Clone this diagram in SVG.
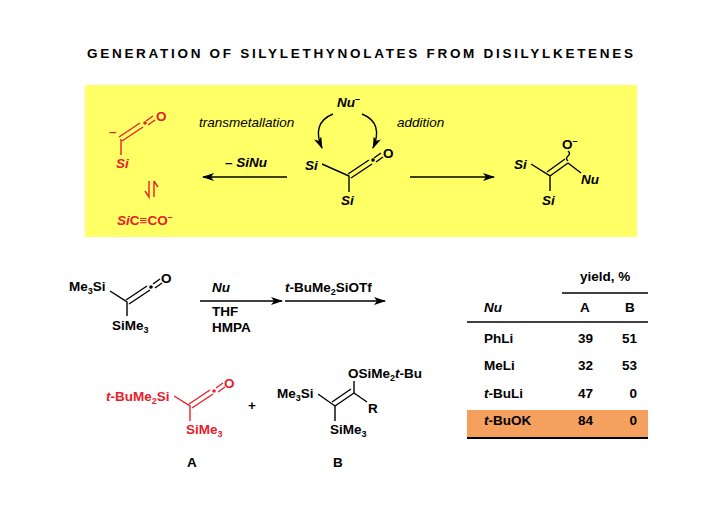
<svg xmlns="http://www.w3.org/2000/svg" width="720" height="509" viewBox="0 0 720 509">
<defs>
<style>
text{font-family:"Liberation Sans",Arial,sans-serif;font-weight:bold;font-size:13.5px;fill:#000}
.i{font-style:italic}
.n{font-weight:normal;font-style:italic}
.r{fill:#e8202a}
.b{stroke:#000;stroke-width:1.4;fill:none}
.rb{stroke:#e8202a;stroke-width:1.4;fill:none}
</style>
<marker id="ah" markerWidth="12" markerHeight="8" refX="11" refY="4" orient="auto" markerUnits="userSpaceOnUse"><path d="M0,0 L12,4 L0,8 L3,4 Z" fill="#000"/></marker>
</defs>
<rect width="720" height="509" fill="#fff"/>
<text x="87" y="58" font-size="15.5" textLength="546" lengthAdjust="spacing">GENERATION  OF  SILYLETHYNOLATES  FROM  DISILYLKETENES</text>
<rect x="85" y="85" width="552" height="152" fill="#ffff66"/>
<g id="top-nu"><text x="337" y="107" class="i">Nu<tspan dy="-5" font-size="9">–</tspan></text></g>
<g id="labels"><text x="199" y="127" class="n" font-size="14">transmetallation</text><text x="397" y="127" class="n" font-size="14">addition</text>
<text x="225" y="167" class="i" font-size="14">– SiNu</text></g>
<g id="ketene">
<text x="305" y="170" class="i" font-size="14">Si</text>
<path class="b" d="M322,164 L349,176 L349,192"/>
<path class="b" d="M348,174 L369,160 M351,178 L372,164 M374,158 L381,153 M376,162 L383,157"/>
<circle cx="373" cy="160" r="1.8"/>
<text x="383" y="158" font-size="14">O</text>
<text x="341" y="205" class="i" font-size="14">Si</text>
</g>
<g id="red-left">
<text x="156" y="121" class="r" font-size="14">O</text>
<text x="109" y="136" class="r">–</text>
<path class="rb" d="M119,137 L140,123 M122,141 L143,127 M146,121 L153,116 M148,125 L155,120"/>
<circle cx="145" cy="123" r="1.8" fill="#e8202a"/>
<path class="rb" d="M121,139 L121,155"/>
<text x="116" y="168" class="r i" font-size="14">Si</text>
<path class="rb" d="M149,181 L149,197 L145,191 M154,181 L154,197 M154,181 L158,187"/>
<text x="117" y="225" class="r" font-size="14"><tspan class="i">Si</tspan>C≡CO<tspan dy="-5" font-size="9">–</tspan></text>
</g>
<g id="product-right">
<text x="514" y="169" class="i" font-size="14">Si</text>
<path class="b" d="M531,164 L550,176 L550,191 M550,176 L568,163 M547,172 L565,159 M568,163 L581,173"/>
<path class="b" d="M568,161 q-3,-2.5 0,-5 q3,-2.5 0,-5" stroke-width="1"/>
<text x="562" y="149" font-size="14">O<tspan dy="-5" font-size="9">–</tspan></text>
<text x="581" y="184" class="i" font-size="14">Nu</text>
<text x="542" y="205" class="i" font-size="14">Si</text>
</g>
<g id="connectors">
<path class="b" d="M333,114 C318,120 315,132 322,148" marker-end="url(#ah)"/>
<path class="b" d="M362,114 C377,120 380,132 373,148" marker-end="url(#ah)"/>
<line class="b" x1="287" y1="177" x2="203" y2="177" marker-end="url(#ah)"/>
<line class="b" x1="410" y1="177" x2="494" y2="177" marker-end="url(#ah)"/>
<line class="b" x1="200" y1="301" x2="282" y2="301" marker-end="url(#ah)"/>
<line class="b" x1="285" y1="301" x2="385" y2="301" marker-end="url(#ah)"/>
</g>
<g id="start">
<text x="69" y="291">Me<tspan font-size="9" dy="3">3</tspan><tspan dy="-3">Si</tspan></text>
<path class="b" d="M110,291 L127,302 L127,316"/>
<path class="b" d="M126,300 L147,286 M129,304 L150,290 M153,284 L160,279 M155,288 L162,283"/>
<circle cx="151" cy="287" r="1.8"/>
<text x="161" y="283" font-size="14">O</text>
<text x="112" y="330">SiMe<tspan font-size="9" dy="3">3</tspan></text>
</g>
<g id="conditions">
<text x="212" y="292" class="i">Nu</text><text x="212" y="316">THF</text><text x="212" y="332">HMPA</text>
<text x="285" y="292"><tspan class="i">t</tspan>-BuMe<tspan font-size="9" dy="3">2</tspan><tspan dy="-3">SiOTf</tspan></text>
</g>
<g id="A">
<text x="106" y="401" class="r"><tspan class="i">t</tspan>-BuMe<tspan font-size="9" dy="3">2</tspan><tspan dy="-3">Si</tspan></text>
<path class="rb" d="M174,396 L190,406 L190,421"/>
<path class="rb" d="M189,404 L210,390 M192,408 L213,394 M216,388 L223,383 M218,392 L225,387"/>
<circle cx="214" cy="391" r="1.8" fill="#e8202a"/>
<text x="224" y="388" class="r" font-size="14">O</text>
<text x="186" y="434" class="r">SiMe<tspan font-size="9" dy="3">3</tspan></text>
<text x="187" y="467">A</text>
</g>
<text x="248" y="410">+</text>
<g id="B">
<text x="277" y="398">Me<tspan font-size="9" dy="3">3</tspan><tspan dy="-3">Si</tspan></text>
<path class="b" d="M318,394 L335,406 L335,421 M335,406 L354,393 M332,402 L351,389 M354,393 L354,381 M354,393 L367,402"/>
<text x="348" y="378">OSiMe<tspan font-size="9" dy="3">2</tspan><tspan dy="-3" class="i">t</tspan>-Bu</text>
<text x="368" y="413">R</text>
<text x="330" y="434">SiMe<tspan font-size="9" dy="3">3</tspan></text>
<text x="333" y="467">B</text>
</g>
<g id="table">
<rect x="467" y="410" width="181" height="27" fill="#f5a05e"/>
<text x="580" y="281">yield, %</text>
<line class="b" x1="562" y1="293" x2="648" y2="293"/>
<text x="484" y="312" class="i">Nu</text><text x="580" y="312">A</text><text x="625" y="312">B</text>
<line class="b" x1="467" y1="322" x2="648" y2="322"/>
<text x="484" y="343">PhLi</text><text x="593" y="343" text-anchor="end">39</text><text x="637" y="343" text-anchor="end">51</text>
<text x="484" y="370">MeLi</text><text x="593" y="370" text-anchor="end">32</text><text x="637" y="370" text-anchor="end">53</text>
<text x="484" y="398"><tspan class="i">t</tspan>-BuLi</text><text x="593" y="398" text-anchor="end">47</text><text x="637" y="398" text-anchor="end">0</text>
<text x="484" y="425"><tspan class="i">t</tspan>-BuOK</text><text x="593" y="425" text-anchor="end">84</text><text x="637" y="425" text-anchor="end">0</text>
<line x1="467" y1="438" x2="648" y2="438" stroke="#000" stroke-width="2"/>
</g>
</svg>
